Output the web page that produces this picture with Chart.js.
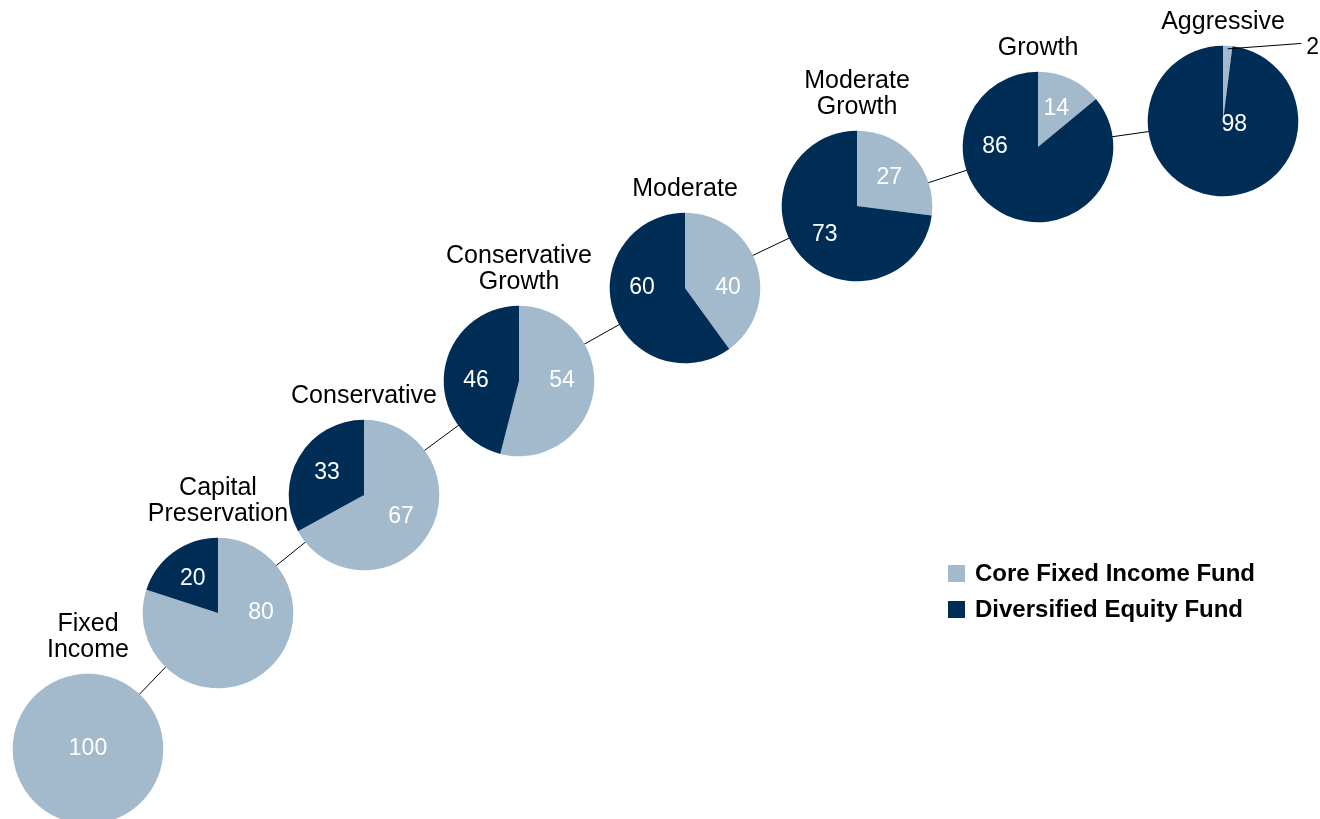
<!DOCTYPE html>
<html lang="en">
<head>
<meta charset="UTF-8">
<title>Glide path</title>
<script src="https://cdn.jsdelivr.net/npm/chart.js"></script>
<style>
  html, body { margin: 0; padding: 0; background: #fff; overflow: hidden; }
  #wrap { position: relative; width: 1320px; height: 819px; }
  #bg { position: absolute; left: 0; top: 0; }
  .pie { position: absolute; }
  .legend { position: absolute; left: 948px; top: 555px; font: bold 24px "Liberation Sans", Arial, sans-serif; color: #000; }
  .legend div { display: flex; align-items: center; height: 36px; white-space: nowrap; }
  .legend span { display: inline-block; width: 17px; height: 17px; margin-right: 10px; }
</style>
</head>
<body>
<div id="wrap">
  <canvas id="bg" width="1320" height="819"></canvas>
  <div class="legend" id="legend"></div>
</div>

<script>
// portfolio names (one entry per pie, split in lines like the original)
const portfolios = [['Fixed', 'Income'], ['Capital', 'Preservation'], ['Conservative'], ['Conservative', 'Growth'],
                    ['Moderate'], ['Moderate', 'Growth'], ['Growth'], ['Aggressive']];
const coreFixedIncome   = [100, 80, 67, 54, 40, 27, 14, 2];
const diversifiedEquity = [0, 20, 33, 46, 60, 73, 86, 98];
const seriesNames = ['Core Fixed Income Fund', 'Diversified Equity Fund'];
const colors = ['#a3b9cc', '#002d56'];

// layout only: where each pie sits on the page (px), and its radius
const centerX = [87.5, 217.7, 364, 518.7, 685, 857.3, 1037.7, 1223.3];
const centerY = [748.5, 612.7, 495, 381, 287.7, 205.7, 147.3, 121];
const R = 75.3;
const FONT = '"Liberation Sans", Arial, sans-serif';

// background chart: the thin line that joins the pies
const bg = new Chart(document.getElementById('bg'), {
    type: 'scatter',
    data: {
        datasets: [{
            data: centerX.map((x, i) => ({ x: x, y: centerY[i] })),
            showLine: true,
            borderColor: '#000',
            borderWidth: 1,
            pointRadius: 0
        }]
    },
    options: {
        responsive: false,
        animation: false,
        events: [],
        layout: { padding: 0 },
        plugins: { legend: { display: false }, tooltip: { enabled: false } },
        scales: {
            x: { type: 'linear', min: 0, max: 1320, display: false },
            y: { type: 'linear', min: 0, max: 819, reverse: true, display: false }
        }
    }
});

// numbers on the slices (Chart.js has no data labels built in)
const sliceLabels = {
    id: 'sliceLabels',
    afterDatasetsDraw(chart) {
        const ctx = chart.ctx;
        const ds = chart.data.datasets[0];
        const total = ds.data.reduce((a, b) => a + b, 0);
        chart.getDatasetMeta(0).data.forEach((arc, j) => {
            const v = ds.data[j];
            if (!v) return;
            const p = v / total;
            const { x, y, startAngle, endAngle, outerRadius } =
                arc.getProps(['x', 'y', 'startAngle', 'endAngle', 'outerRadius'], true);
            const mid = (startAngle + endAngle) / 2;
            ctx.save();
            ctx.font = '23px ' + FONT;
            ctx.textBaseline = 'middle';
            if (p < 0.05) {
                // tiny slice: label outside with a leader line
                const sx = x + Math.cos(mid) * outerRadius * 0.96;
                const sy = y + Math.sin(mid) * outerRadius * 0.96;
                const ex = x + outerRadius * 1.04;
                const ey = y - outerRadius * 1.03;
                ctx.strokeStyle = '#000';
                ctx.lineWidth = 1;
                ctx.beginPath();
                ctx.moveTo(sx, sy);
                ctx.lineTo(ex, ey);
                ctx.stroke();
                ctx.fillStyle = '#000';
                ctx.textAlign = 'left';
                ctx.fillText(String(v), ex + 5, ey + 4);
            } else {
                let lx = x, ly = y;
                if (p < 0.9) {
                    let a = mid;
                    // big / half slices get their label level with the centre
                    if ((p >= 0.35 && p <= 0.65) || p >= 0.78) a = Math.cos(mid) >= 0 ? 0 : Math.PI;
                    lx = x + Math.cos(a) * 0.57 * outerRadius;
                    ly = y + Math.sin(a) * 0.57 * outerRadius;
                } else {
                    // nearly full pie: label just off centre, as in the original
                    lx = x + 0.15 * outerRadius;
                    ly = y + 0.05 * outerRadius;
                    if (p === 1) { lx = x; ly = y; }
                }
                ctx.fillStyle = '#fff';
                ctx.textAlign = 'center';
                ctx.fillText(String(v), lx, ly);
            }
            ctx.restore();
        });
    }
};

const W = 240, H = 214;
const wrap = document.getElementById('wrap');

portfolios.forEach((name, i) => {
    const px = bg.scales.x.getPixelForValue(centerX[i]);
    const py = bg.scales.y.getPixelForValue(centerY[i]);
    const c = document.createElement('canvas');
    c.className = 'pie';
    c.width = W;
    c.height = H;
    c.style.left = (px - W / 2) + 'px';
    c.style.top = (py - 138) + 'px';   // title block 62px + half of 152px chart area
    wrap.appendChild(c);

    new Chart(c, {
        type: 'pie',
        data: {
            labels: seriesNames,
            datasets: [{
                data: [coreFixedIncome[i], diversifiedEquity[i]],
                backgroundColor: colors,
                borderWidth: 0,
                hoverOffset: 0,
                radius: R
            }]
        },
        options: {
            responsive: false,
            animation: false,
            events: [],
            layout: { padding: 0 },
            plugins: {
                legend: { display: false },
                tooltip: { enabled: false },
                title: {
                    display: true,
                    text: name.length === 1 ? ['', name[0]] : name,
                    color: '#000',
                    font: { family: FONT, size: 25, weight: 'normal', lineHeight: 1.04 },
                    padding: { top: 0, bottom: 10 }
                }
            }
        },
        plugins: [sliceLabels]
    });
});

// legend
const legend = document.getElementById('legend');
seriesNames.forEach((n, i) => {
    const row = document.createElement('div');
    const sw = document.createElement('span');
    sw.style.background = colors[i];
    row.appendChild(sw);
    row.appendChild(document.createTextNode(n));
    legend.appendChild(row);
});
</script>
</body>
</html>
